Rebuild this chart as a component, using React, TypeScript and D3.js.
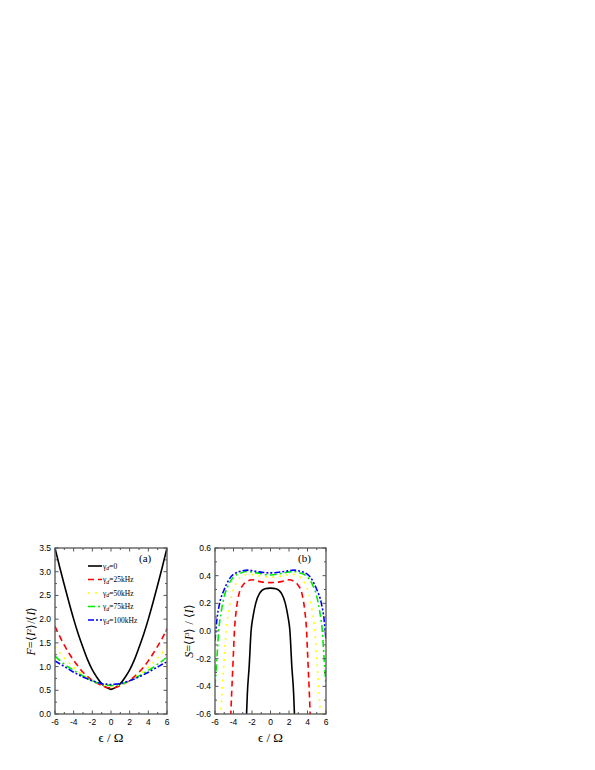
import React, { useRef, useEffect } from 'react';
import * as d3 from 'd3';

// panel (a): Fano factor F vs eps/Omega
const seriesNames = ['0', '25kHz', '50kHz', '75kHz', '100kHz'];
const colors = ['#000000', '#ff0000', '#ffff00', '#00ee00', '#0000ff'];
const dashes = [null, '6,4', '2,5', '7,3,2,3', '6,2,2,2,2,2'];

const xA = [-6, -5.5, -5, -4.5, -4, -3.5, -3, -2.5, -2, -1.5, -1, -0.5, 0, 0.5, 1, 1.5, 2, 2.5, 3, 3.5, 4, 4.5, 5, 5.5, 6];
const fBlack = [3.5, 3.1, 2.72, 2.35, 2.0, 1.68, 1.4, 1.14, 0.93, 0.77, 0.64, 0.56, 0.52, 0.56, 0.64, 0.77, 0.93, 1.14, 1.4, 1.68, 2.0, 2.35, 2.72, 3.1, 3.5];
const fRed = [1.85, 1.64, 1.45, 1.28, 1.13, 1.0, 0.88, 0.79, 0.71, 0.65, 0.6, 0.56, 0.55, 0.56, 0.6, 0.65, 0.71, 0.79, 0.88, 0.99, 1.12, 1.27, 1.43, 1.6, 1.8];
const fYellow = [1.42, 1.29, 1.18, 1.08, 0.99, 0.9, 0.83, 0.76, 0.7, 0.66, 0.62, 0.59, 0.58, 0.59, 0.62, 0.66, 0.7, 0.76, 0.83, 0.9, 0.99, 1.08, 1.18, 1.29, 1.42];
const fGreen = [1.22, 1.13, 1.05, 0.98, 0.92, 0.86, 0.8, 0.75, 0.7, 0.66, 0.63, 0.61, 0.6, 0.61, 0.63, 0.66, 0.7, 0.75, 0.8, 0.86, 0.92, 0.98, 1.05, 1.12, 1.2];
const fBlue = [1.12, 1.06, 1.0, 0.94, 0.88, 0.83, 0.78, 0.74, 0.7, 0.67, 0.64, 0.63, 0.62, 0.63, 0.64, 0.67, 0.7, 0.74, 0.78, 0.83, 0.88, 0.94, 0.99, 1.05, 1.1];

// panel (b): skewness S vs eps/Omega (half curves, mirrored)
const xSBlack = [-2.6, -2.5, -2.3, -2.1, -1.9, -1.6, -1.2, -0.6, 0];
const sBlack = [-0.62, -0.45, -0.25, 0.0, 0.1, 0.2, 0.27, 0.305, 0.31];
const xSRed = [-4.3, -4.2, -4.1, -4.0, -3.9, -3.7, -3.4, -3.0, -2.5, -2.0, -1.0, 0];
const sRed = [-0.62, -0.45, -0.3, -0.15, 0.0, 0.15, 0.27, 0.33, 0.36, 0.37, 0.355, 0.35];
const xSYellow = [-5.4, -5.2, -5.0, -4.8, -4.5, -4.1, -3.6, -3.0, -2.3, -1.0, 0];
const sYellow = [-0.62, -0.4, -0.2, 0.0, 0.15, 0.28, 0.36, 0.4, 0.41, 0.395, 0.39];
const xSGreen = [-6, -5.8, -5.6, -5.3, -5.0, -4.5, -4.0, -3.2, -2.5, -1.5, 0];
const sGreen = [-0.4, -0.2, 0.0, 0.15, 0.25, 0.34, 0.39, 0.42, 0.43, 0.42, 0.405];
const xSBlue = [-6, -5.8, -5.5, -5.0, -4.5, -4.0, -3.0, -2.5, -1.5, 0];
const sBlue = [-0.07, 0.08, 0.2, 0.3, 0.37, 0.41, 0.435, 0.44, 0.43, 0.42];

const xTicks = [-6, -4, -2, 0, 2, 4, 6];
const fTicks = [0, 0.5, 1.0, 1.5, 2.0, 2.5, 3.0, 3.5];
const sTicks = [-0.6, -0.4, -0.2, 0.0, 0.2, 0.4, 0.6];

const mirror = (xs: number[], ys: number[]) => {
  const pts = xs.map((x, i) => [x, ys[i]]);
  const right = pts.slice(0, -1).reverse().map(([x, y]) => [-x, y]);
  return pts.concat(right);
};

const App = () => {
  const svgRef = useRef<SVGSVGElement>(null);

  useEffect(() => {
    const svg = d3.select(svgRef.current);
    svg.selectAll('*').remove();

    const panel = (
      left: number, right: number, top: number, bottom: number,
      yDomain: [number, number], yTicks: number[], yMinor: number,
      curves: number[][][], tag: string, id: string
    ) => {
      const x = d3.scaleLinear().domain([-6, 6]).range([left, right]);
      const y = d3.scaleLinear().domain(yDomain).range([bottom, top]);
      const g = svg.append('g');

      g.append('clipPath').attr('id', id).append('rect')
        .attr('x', left).attr('y', top).attr('width', right - left).attr('height', bottom - top);

      const line = d3.line<number[]>()
        .x(d => x(d[0]))
        .y(d => y(d[1]))
        .curve(d3.curveMonotoneX);

      curves.forEach((pts, i) => {
        g.append('path')
          .attr('clip-path', `url(#${id})`)
          .attr('d', line(pts))
          .attr('fill', 'none')
          .attr('stroke', colors[i])
          .attr('stroke-width', 1.6)
          .attr('stroke-dasharray', dashes[i]);
      });

      // frame
      g.append('rect')
        .attr('x', left).attr('y', top).attr('width', right - left).attr('height', bottom - top)
        .attr('fill', 'none').attr('stroke', '#555').attr('stroke-width', 1.3);

      // x ticks (inward, bottom and top)
      const xMinor = d3.range(-6, 6.01, 1);
      xMinor.forEach(v => {
        const len = v % 2 === 0 ? 3.5 : 2;
        g.append('line').attr('x1', x(v)).attr('x2', x(v)).attr('y1', bottom).attr('y2', bottom - len)
          .attr('stroke', '#555').attr('stroke-width', 1);
        g.append('line').attr('x1', x(v)).attr('x2', x(v)).attr('y1', top).attr('y2', top + len)
          .attr('stroke', '#555').attr('stroke-width', 1);
      });
      const yAll = d3.range(yDomain[0], yDomain[1] + 1e-6, yMinor);
      yAll.forEach((v, i) => {
        const len = i % 2 === 0 ? 3.5 : 2;
        g.append('line').attr('y1', y(v)).attr('y2', y(v)).attr('x1', left).attr('x2', left + len)
          .attr('stroke', '#555').attr('stroke-width', 1);
        g.append('line').attr('y1', y(v)).attr('y2', y(v)).attr('x1', right).attr('x2', right - len)
          .attr('stroke', '#555').attr('stroke-width', 1);
      });

      g.selectAll('.xl').data(xTicks).enter().append('text')
        .attr('x', d => x(d)).attr('y', bottom + 11)
        .attr('text-anchor', 'middle')
        .attr('font-family', 'Liberation Sans, Arial, sans-serif')
        .attr('font-size', 8.5)
        .text(d => String(d));

      g.selectAll('.yl').data(yTicks).enter().append('text')
        .attr('x', left - 4).attr('y', d => y(d) + 3)
        .attr('text-anchor', 'end')
        .attr('font-family', 'Liberation Sans, Arial, sans-serif')
        .attr('font-size', 8.5)
        .text(d => d.toFixed(1));

      g.append('text')
        .attr('x', (left + right) / 2).attr('y', bottom + 28)
        .attr('text-anchor', 'middle')
        .attr('font-family', 'Liberation Serif, Times New Roman, serif')
        .attr('font-size', 13)
        .text('\u03F5 / \u03A9');

      g.append('text')
        .attr('x', right - 28).attr('y', top + 14)
        .attr('font-family', 'Liberation Serif, Times New Roman, serif')
        .attr('font-size', 11)
        .text(tag);

      return { x, y, g };
    };

    const a = panel(55, 167, 548, 714, [0, 3.5], fTicks, 0.25,
      [fBlack, fRed, fYellow, fGreen, fBlue].map(ys => xA.map((v, i) => [v, ys[i]])),
      '(a)', 'clipA');

    const b = panel(215, 326, 548, 714, [-0.6, 0.6], sTicks, 0.1,
      [mirror(xSBlack, sBlack), mirror(xSRed, sRed), mirror(xSYellow, sYellow),
        mirror(xSGreen, sGreen), mirror(xSBlue, sBlue)],
      '(b)', 'clipB');

    // y titles
    const yTitle = (g: any, cx: number, cy: number, sup: string) => {
      const t = g.append('text')
        .attr('transform', `translate(${cx},${cy}) rotate(-90)`)
        .attr('text-anchor', 'middle')
        .attr('font-family', 'Liberation Serif, Times New Roman, serif')
        .attr('font-size', 12);
      return t;
    };
    const ta = yTitle(a.g, 35, 631, '2');
    ta.append('tspan').attr('font-style', 'italic').text('F');
    ta.append('tspan').text('=\u27E8');
    ta.append('tspan').attr('font-style', 'italic').text('I');
    ta.append('tspan').attr('font-size', 7).attr('dy', -4).text('2');
    ta.append('tspan').attr('dy', 4).text('\u27E9/\u27E8');
    ta.append('tspan').attr('font-style', 'italic').text('I');
    ta.append('tspan').text('\u27E9');

    const tb = yTitle(b.g, 193, 631, '3');
    tb.append('tspan').attr('font-style', 'italic').text('S');
    tb.append('tspan').text('=\u27E8');
    tb.append('tspan').attr('font-style', 'italic').text('I');
    tb.append('tspan').attr('font-size', 7).attr('dy', -4).text('3');
    tb.append('tspan').attr('dy', 4).text('\u27E9 / \u27E8');
    tb.append('tspan').attr('font-style', 'italic').text('I');
    tb.append('tspan').text('\u27E9');

    // legend
    const leg = a.g.append('g');
    seriesNames.forEach((name, i) => {
      const ly = 566 + i * 13.5;
      leg.append('line')
        .attr('x1', 88).attr('x2', 102).attr('y1', ly).attr('y2', ly)
        .attr('stroke', colors[i]).attr('stroke-width', 1.6)
        .attr('stroke-dasharray', dashes[i]);
      const t = leg.append('text')
        .attr('x', 103).attr('y', ly + 2.5)
        .attr('font-family', 'Liberation Serif, Times New Roman, serif')
        .attr('font-size', 7.5);
      t.append('tspan').text('\u03B3');
      t.append('tspan').attr('font-style', 'italic').attr('font-size', 6).attr('dy', 1.5).text('d');
      t.append('tspan').attr('dy', -1.5).text('=' + name);
    });
  }, []);

  return (
    <svg ref={svgRef} width={595} height={770}
      style={{ position: 'absolute', left: 0, top: 0, background: '#fff' }} />
  );
};

export default App;
